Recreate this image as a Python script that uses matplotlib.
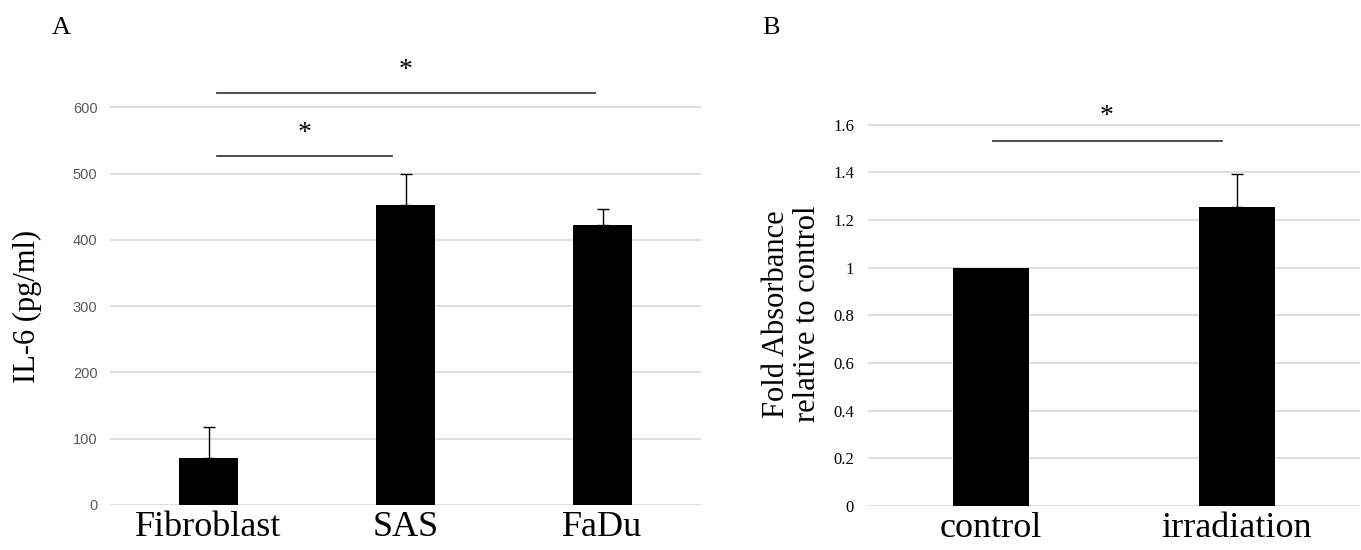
import matplotlib
matplotlib.use('Agg')
import matplotlib.pyplot as plt

# Dados painel A
cats_a = ['Fibroblast', 'SAS', 'FaDu']
vals_a = [71, 452, 422]
err_a = [47, 48, 24]

# Dados painel B
cats_b = ['control', 'irradiation']
vals_b = [1.0, 1.255]
err_b = [0.0, 0.14]

serif = 'Liberation Serif'
sans = 'Liberation Sans'
grid_cor = '#d9d9d9'
tick_cor = '#595959'
linha_cor = '#404040'

fig = plt.figure(figsize=(13.61, 5.5), dpi=100)

# ========== PAINEL A ==========
ax1 = fig.add_axes([110/1361, 1-505/550, 591/1361, 464/550])
x_a = range(len(cats_a))
ax1.bar(x_a, vals_a, width=0.3, color='black', zorder=3)
ax1.errorbar(x_a, vals_a, yerr=[[0]*len(err_a), err_a], fmt='none',
             ecolor='black', elinewidth=1, capsize=4, capthick=1, zorder=4)
ax1.set_xlim(-0.5, 2.5)
ax1.set_ylim(0, 700)
ax1.set_yticks(range(0, 700, 100))
ax1.yaxis.grid(True, color=grid_cor, linewidth=1.2, zorder=0)
for s in ax1.spines.values():
    s.set_visible(False)
ax1.tick_params(length=0)
ax1.tick_params(axis='y', labelsize=10.5, labelcolor=tick_cor, pad=9)
for lb in ax1.get_yticklabels():
    lb.set_fontfamily(sans)
ax1.set_xticks(list(x_a))
ax1.set_xticklabels(cats_a, fontsize=26, fontfamily=serif)
ax1.tick_params(axis='x', pad=4)

# linhas de significância
ax1.plot([0.045, 0.93], [526, 526], color=linha_cor, lw=1.3, clip_on=False)
ax1.plot([0.045, 1.96], [621, 621], color=linha_cor, lw=1.3, clip_on=False)
ax1.text(0.49, 560, '*', ha='center', va='center', fontsize=20, fontfamily=serif)
ax1.text(1.0, 656, '*', ha='center', va='center', fontsize=20, fontfamily=serif)

# ========== PAINEL B ==========
ax2 = fig.add_axes([868/1361, 1-506/550, 492/1361, 429/550])
x_b = range(len(cats_b))
ax2.bar(x_b, vals_b, width=0.31, color='black', zorder=3)
ax2.errorbar([1], [vals_b[1]], yerr=[[0], [err_b[1]]], fmt='none',
             ecolor='black', elinewidth=1, capsize=4, capthick=1, zorder=4)
ax2.set_xlim(-0.5, 1.5)
ax2.set_ylim(0, 1.8)
ax2.set_yticks([0, 0.2, 0.4, 0.6, 0.8, 1.0, 1.2, 1.4, 1.6])
ax2.set_yticklabels(['0', '0.2', '0.4', '0.6', '0.8', '1', '1.2', '1.4', '1.6'],
                    fontsize=12, fontfamily=serif)
ax2.yaxis.grid(True, color=grid_cor, linewidth=1.2, zorder=0)
for s in ax2.spines.values():
    s.set_visible(False)
ax2.tick_params(length=0)
ax2.tick_params(axis='y', pad=10)
ax2.set_xticks(list(x_b))
ax2.set_xticklabels(cats_b, fontsize=26, fontfamily=serif)
ax2.tick_params(axis='x', pad=4)

ax2.plot([0.01, 0.94], [1.53, 1.53], color=linha_cor, lw=1.3, clip_on=False)
ax2.text(0.47, 1.635, '*', ha='center', va='center', fontsize=20, fontfamily=serif)

# rótulos dos eixos y
fig.text(27/1361, 1-306/550, 'IL-6 (pg/ml)', rotation=90, fontsize=22,
         fontfamily=serif, ha='center', va='center')
fig.text(792/1361, 1-314/550, 'Fold Absorbance\nrelative to control', rotation=90,
         fontsize=22, fontfamily=serif, ha='center', va='center', linespacing=1.1)

# letras dos painéis
fig.text(61/1361, 1-28/550, 'A', fontsize=19, fontfamily=serif, ha='center', va='center')
fig.text(771/1361, 1-28/550, 'B', fontsize=19, fontfamily=serif, ha='center', va='center')

fig.savefig('out.png', dpi=100, facecolor='white')
